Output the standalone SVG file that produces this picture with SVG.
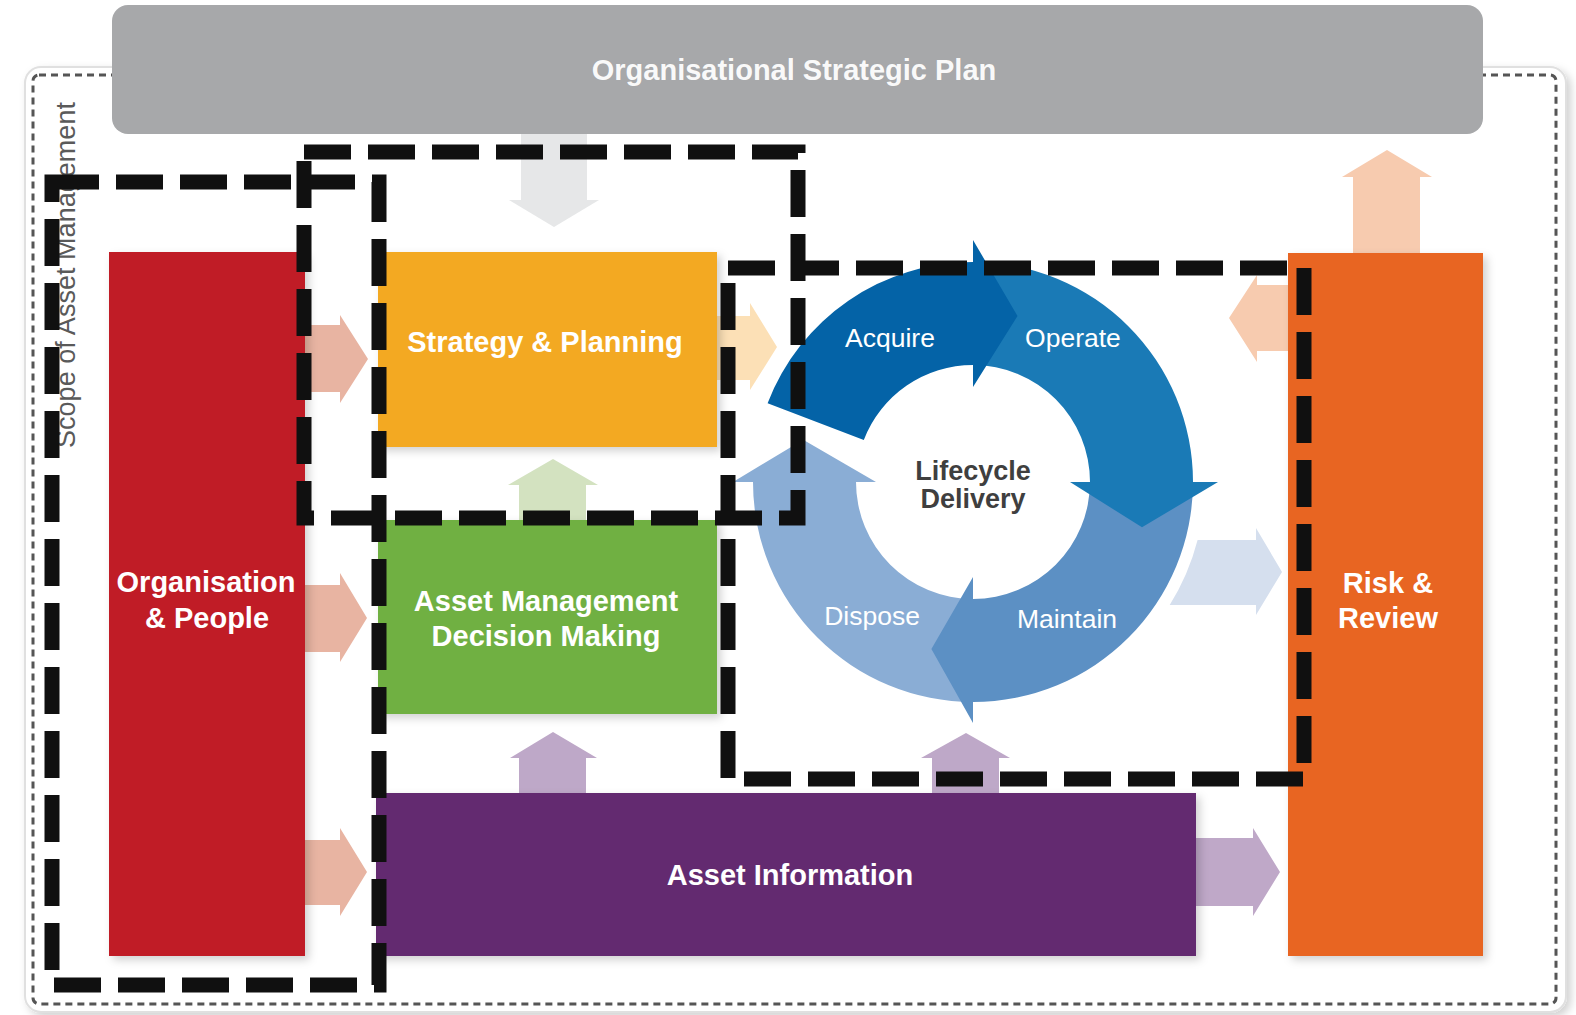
<svg xmlns="http://www.w3.org/2000/svg" width="1576" height="1015" viewBox="0 0 1576 1015">
<defs>
<filter id="sh" x="-10%" y="-10%" width="130%" height="130%">
<feDropShadow dx="4" dy="4" stdDeviation="4" flood-color="#000" flood-opacity="0.18"/>
</filter>
<style>
.lbl{font-family:"Liberation Sans",Arial,sans-serif;font-weight:bold;font-size:29px;fill:#ffffff;text-anchor:middle}
.ring{font-family:"Liberation Sans",Arial,sans-serif;font-size:26.5px;fill:#ffffff;text-anchor:middle}
.core{font-family:"Liberation Sans",Arial,sans-serif;font-weight:bold;font-size:27px;fill:#3f3f3f;text-anchor:middle}
.hl{fill:none;stroke:#101010;stroke-width:15;stroke-dasharray:47 17}
</style>
</defs>
<rect x="0" y="0" width="1576" height="1015" fill="#ffffff"/>

<g id="scope-frame">
<rect x="25" y="67" width="1541" height="945" rx="16" fill="#ffffff" stroke="#e0e0e0" stroke-width="2" filter="url(#sh)"/>
<rect x="33" y="75" width="1523" height="929" rx="6" fill="none" stroke="#555555" stroke-width="3" stroke-dasharray="7 5"/>
<text transform="translate(75,448) rotate(-90)" font-family="'Liberation Sans',Arial,sans-serif" font-size="27" fill="#5a5a5a" textLength="346">Scope of Asset Management</text>
</g>

<g id="connectors">
<path d="M521 130 H587 V200 H599 L554 227 L509 200 H521 Z" fill="#e6e7e8"/>
<path d="M519 522 V485 H508 L553 459 L598 485 H586 V522 Z" fill="#d3e2c0"/>
<path d="M519 795 V758 H510 L553 732 L597 758 H586 V795 Z" fill="#bea8c8"/>
<path d="M932 795 V758 H921 L966 733 L1010 758 H999 V795 Z" fill="#bea8c8"/>
<path d="M300 325 H340 V315 L368 359 L340 403 V392 H300 Z" fill="#e8b4a2"/>
<path d="M300 585 H340 V573 L367 618 L340 662 V652 H300 Z" fill="#e8b4a2"/>
<path d="M300 840 H340 V828 L367 872 L340 916 V905 H300 Z" fill="#e8b4a2"/>
<path d="M712 316 H750 V303 L777 347 L750 390 V380 H712 Z" fill="#fce0b6"/>
<path d="M1190 838 H1253 V828 L1280 872 L1253 916 V906 H1190 Z" fill="#bfa8c8"/>
<path d="M1197.6 540 H1256 V528 L1282 572 L1256 615 V605 H1169.7 A232 232 0 0 0 1197.6 540 Z" fill="#d5dfee"/>
<path d="M1295 285 H1257 V275 L1229 318 L1257 362 V351 H1295 Z" fill="#f7cbaf"/>
<path d="M1353 258 V177 H1342 L1387 150 L1432 177 H1420 V258 Z" fill="#f7cbaf"/>
</g>

<g id="node-plan">
<rect x="112" y="5" width="1371" height="129" rx="16" fill="#a7a8aa"/>
<text class="lbl" x="794" y="80" fill-opacity="0.95">Organisational Strategic Plan</text>
</g>

<g id="node-org">
<rect x="109" y="252" width="196" height="704" fill="#c01f27" filter="url(#sh)"/>
<text class="lbl" x="206" y="592">Organisation</text>
<text class="lbl" x="207" y="628">&amp; People</text>
</g>

<g id="node-strategy">
<rect x="378" y="252" width="339" height="195" fill="#f3a920" filter="url(#sh)"/>
<text class="lbl" x="545" y="352">Strategy &amp; Planning</text>
</g>

<g id="node-decision">
<rect x="378" y="520" width="339" height="194" fill="#6fb043" filter="url(#sh)"/>
<text class="lbl" x="546" y="611">Asset Management</text>
<text class="lbl" x="546" y="646">Decision Making</text>
</g>

<g id="node-info">
<rect x="376" y="793" width="820" height="163" fill="#63296f" filter="url(#sh)"/>
<text class="lbl" x="790" y="885">Asset Information</text>
</g>

<g id="node-risk">
<rect x="1288" y="253" width="195" height="703" fill="#e86524" filter="url(#sh)"/>
<text class="lbl" x="1388" y="593">Risk &amp;</text>
<text class="lbl" x="1388" y="628">Review</text>
</g>

<g id="node-lifecycle">
<path id="dispose" d="M973 702 A220 220 0 0 1 753 482 L733 482 L803.2 439.7 L876 482 L856 482 A117 117 0 0 0 973 599 Z" fill="#8aadd5"/>
<path id="maintain" d="M1193 482 A220 220 0 0 1 973 702 L973 723 L931.4 648.9 L973 577 L973 599 A117 117 0 0 0 1090 482 Z" fill="#5c90c4"/>
<path id="operate" d="M973 262 A220 220 0 0 1 1193 482 L1218 482 L1142 527.3 L1070 482 L1090 482 A117 117 0 0 0 973 365 Z" fill="#1a7ab6"/>
<path id="acquire" d="M767.6 403.2 A220 220 0 0 1 973 262 L973 240 L1017.5 315.9 L973 387 L973 365 A117 117 0 0 0 863.8 440.1 Z" fill="#0463a7"/>
<text class="ring" x="890" y="347">Acquire</text>
<text class="ring" x="1073" y="347">Operate</text>
<text class="ring" x="872" y="625">Dispose</text>
<text class="ring" x="1067" y="628">Maintain</text>
<text class="core" x="973" y="480">Lifecycle</text>
<text class="core" x="973" y="508">Delivery</text>
</g>

<g id="highlights">
<rect class="hl" x="52" y="182" width="327" height="803"/>
<rect class="hl" x="304" y="152" width="494" height="366"/>
<rect class="hl" x="728" y="268" width="576" height="511"/>
</g>
</svg>
